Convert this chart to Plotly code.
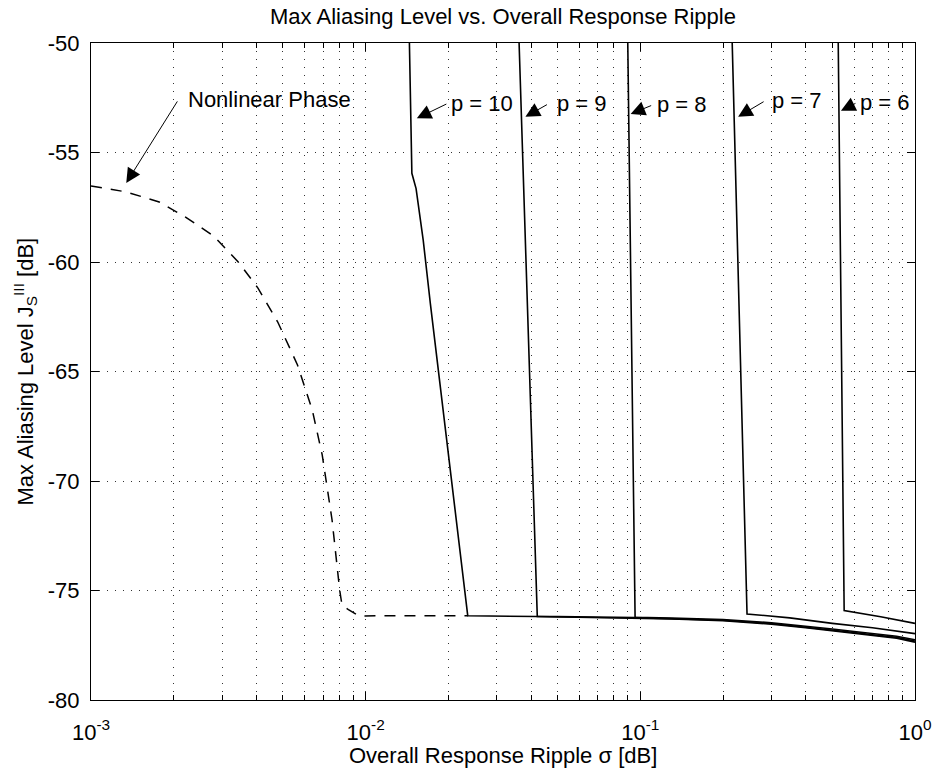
import numpy as np
import plotly.graph_objects as go

# ---- data: max aliasing level [dB] vs overall ripple sigma [dB] ----
nl_sigma = [0.001, 0.001344, 0.001771, 0.002209, 0.002793, 0.003436, 0.004054,
            0.004785, 0.005647, 0.006393, 0.006947, 0.007545, 0.008042, 0.008199,
            0.008686, 0.009436, 0.02353]
nl_level = [-56.53, -56.80, -57.26, -57.95, -58.81, -60.00, -61.19,
            -62.74, -64.70, -66.76, -68.81, -71.78, -74.98, -75.66,
            -75.89, -76.16, -76.15]

p10_sigma = [0.01443, 0.01473, 0.01526, 0.0162, 0.0172, 0.02353, 0.042, 0.0957,
             0.13, 0.2, 0.3, 0.4, 0.5, 0.6, 0.7, 0.857, 1.0]
p10_level = [-50.0, -55.95, -56.65, -59.0, -61.9, -76.15, -76.19, -76.26,
             -76.3, -76.38, -76.54, -76.7, -76.85, -76.96, -77.06, -77.18, -77.36]

p9_sigma = [0.03619, 0.04215, 0.0957, 0.13, 0.2, 0.3, 0.4, 0.5, 0.6, 0.7, 0.857, 1.0]
p9_level = [-50.0, -76.18, -76.24, -76.28, -76.36, -76.51, -76.67, -76.81,
            -76.92, -77.02, -77.14, -77.31]

p8_sigma = [0.0900, 0.0957, 0.13, 0.2, 0.3, 0.4, 0.5, 0.6, 0.7, 0.857, 1.0]
p8_level = [-50.0, -76.22, -76.26, -76.33, -76.47, -76.62, -76.76, -76.87,
            -76.97, -77.09, -77.25]

p7_sigma = [0.216, 0.2446, 0.35, 0.5, 0.7, 0.857, 1.0]
p7_level = [-50.0, -76.07, -76.25, -76.5, -76.7, -76.85, -76.97]

p6_sigma = [0.5254, 0.5522, 0.75, 1.0]
p6_level = [-50.0, -75.92, -76.2, -76.5]

x_tick_vals = [0.001, 0.01, 0.1, 1.0]
x_tick_text = ["10<sup>-3</sup>", "10<sup>-2</sup>", "10<sup>-1</sup>", "10<sup>0</sup>"]
y_tick_vals = [-80, -75, -70, -65, -60, -55, -50]
y_tick_text = ["-80", "-75", "-70", "-65", "-60", "-55", "-50"]

p_labels = ["p = 10", "p = 9", "p = 8", "p = 7", "p = 6"]
p_curves = [(p10_sigma, p10_level), (p9_sigma, p9_level), (p8_sigma, p8_level),
            (p7_sigma, p7_level), (p6_sigma, p6_level)]

FONT = "Liberation Sans, Arial, Helvetica, sans-serif"
INK = "black"
FS = 22

fig = go.Figure()

fig.add_trace(go.Scatter(x=nl_sigma, y=nl_level, mode="lines",
                         line=dict(color=INK, width=1.5, dash="11px,9px"),
                         showlegend=False, hoverinfo="skip"))

for sig, lev in p_curves:
    fig.add_trace(go.Scatter(x=sig, y=lev, mode="lines",
                             line=dict(color=INK, width=1.6),
                             showlegend=False, hoverinfo="skip"))


def top_segment_logx(sig, lev, level):
    """log10(sigma) on the near-vertical first segment of a curve at a given level."""
    l0, l1 = np.log10(sig[0]), np.log10(sig[1])
    return l0 + (l1 - l0) * (level - lev[0]) / (lev[1] - lev[0])


annotations = []


def add_arrow_label(x_log, y, text, nudge, tail, gap, yshift=0):
    """Arrow from a tail (pixel offset) to a point, with the label just after the tail."""
    ax, ay = tail
    annotations.append(dict(
        x=x_log, y=y, xref="x", yref="y", text="", showarrow=True,
        ax=ax, ay=ay, xshift=nudge, yshift=yshift,
        arrowhead=2, arrowsize=2.9, arrowwidth=1.0, arrowcolor=INK, standoff=0))
    annotations.append(dict(
        x=x_log, y=y, xref="x", yref="y", text=text, showarrow=False,
        xanchor="left", yanchor="middle",
        xshift=nudge + ax + gap, yshift=yshift - ay,
        font=dict(family=FONT, size=FS, color=INK)))


# label placement: tip level on each curve, nudge right of the line (px),
# tail offset from tip (px), gap between tail and text (px)
tip_levels = [-53.44, -53.37, -53.24, -53.37, -53.09]
tip_nudges = [6, 4, 2, 4, 2]
tail_offsets = [(31, -15), (23, -13), (22, -9), (27, -16), (16, -8)]
text_gaps = [1, 7, 2, 5, 1]

for text, (sig, lev), tl, nx, tail, gap in zip(p_labels, p_curves, tip_levels,
                                               tip_nudges, tail_offsets, text_gaps):
    add_arrow_label(top_segment_logx(sig, lev, tl), tl, text, nx, tail, gap)

# nonlinear phase label, arrow tip just above the dashed curve
add_arrow_label(np.log10(nl_sigma[1]), nl_level[1], "Nonlinear Phase",
                0, (52, -83), 8, yshift=9)

# axis titles
annotations.append(dict(
    x=0.5, y=0, xref="paper", yref="paper", yshift=-55,
    text="Overall Response Ripple σ [dB]", showarrow=False,
    xanchor="center", yanchor="middle",
    font=dict(family=FONT, size=FS, color=INK)))
annotations.append(dict(
    x=0, y=0.5, xref="paper", yref="paper", xshift=-66,
    text="Max Aliasing Level J<sub>S</sub><sup>III</sup> [dB]", showarrow=False,
    textangle=-90, xanchor="center", yanchor="middle",
    font=dict(family=FONT, size=FS, color=INK)))

minor_x = [m * 10.0 ** e for e in (-3, -2, -1) for m in range(2, 10)]
GRID = "rgba(0,0,0,0.8)"
GRID_DASH = "1px,7px"

fig.update_layout(
    width=944, height=770, autosize=False,
    margin=dict(l=91, r=19, t=43, b=70, pad=0),
    paper_bgcolor="white", plot_bgcolor="white",
    font=dict(family=FONT, size=FS, color=INK),
    title=dict(text="Max Aliasing Level vs. Overall Response Ripple",
               x=0.5, xref="paper", xanchor="center",
               y=1 - 16 / 770, yref="container", yanchor="middle",
               font=dict(family=FONT, size=FS, color=INK)),
    annotations=annotations,
    xaxis=dict(type="log", range=[-3, 0], tickmode="array",
               tickvals=x_tick_vals, ticktext=x_tick_text,
               ticks="inside", ticklen=8, tickwidth=1, tickcolor=INK,
               showline=True, linecolor=INK, linewidth=1.3, mirror="allticks",
               showgrid=True, gridcolor=GRID, gridwidth=1, griddash=GRID_DASH,
               ticklabelstandoff=12, zeroline=False,
               tickfont=dict(family=FONT, size=FS, color=INK),
               minor=dict(tickmode="array", tickvals=minor_x, ticks="inside",
                          ticklen=5, tickwidth=1, tickcolor=INK, showgrid=True,
                          gridcolor=GRID, gridwidth=1, griddash=GRID_DASH)),
    yaxis=dict(range=[-80, -50], tickmode="array", tickvals=y_tick_vals,
               ticktext=y_tick_text,
               ticks="inside", ticklen=8, tickwidth=1, tickcolor=INK,
               showline=True, linecolor=INK, linewidth=1.3, mirror="allticks",
               showgrid=True, gridcolor=GRID, gridwidth=1, griddash=GRID_DASH,
               ticklabelstandoff=6, zeroline=False,
               tickfont=dict(family=FONT, size=FS, color=INK)),
)

fig.write_html("out.html")
